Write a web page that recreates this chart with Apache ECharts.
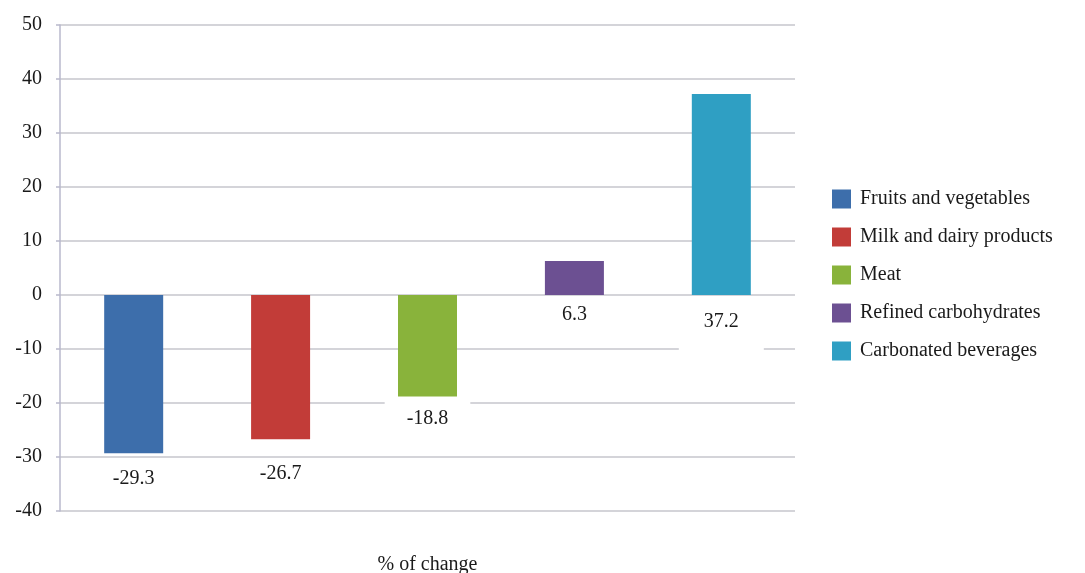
<!DOCTYPE html>
<html>
<head>
<meta charset="utf-8">
<script src="https://cdn.jsdelivr.net/npm/echarts@6/dist/echarts.min.js"></script>
<style>
  html, body { margin: 0; padding: 0; background: #ffffff; }
  #chart { width: 1085px; height: 573px; }
</style>
</head>
<body>
<div id="chart"></div>
<script>
// Percent change in consumption by food group
const categories = ['% of change'];
const groupNames = [
  'Fruits and vegetables',
  'Milk and dairy products',
  'Meat',
  'Refined carbohydrates',
  'Carbonated beverages'
];
const groupValues = [-29.3, -26.7, -18.8, 6.3, 37.2];
const groupColors = ['#3d6eab', '#c23c38', '#89b33b', '#6c5092', '#2f9fc3'];
const yTicks = { min: -40, max: 50, interval: 10 };

// per-bar label spacing (distance from bar end, box padding)
const labelDistance = [8, 22, 2, 2, 2];
const labelPadding = [
  [8, 20, 4, 20],
  [3, 20, 4, 20],
  [10.5, 22, 4, 22],
  [8, 20, 4, 20],
  [15, 25, 22, 25]
];

const FONT = '"Liberation Serif", "Times New Roman", serif';

const chart = echarts.init(document.getElementById('chart'), null, { renderer: 'canvas' });

const series = groupNames.map((name, i) => ({
  name: name,
  type: 'bar',
  data: [groupValues[i]],
  barWidth: 59,
  barGap: '149%',
  itemStyle: { color: groupColors[i] },
  label: {
    show: true,
    position: 'bottom',
    distance: labelDistance[i],
    formatter: (p) => p.value.toFixed(1),
    color: '#1a1a1a',
    fontFamily: FONT,
    fontSize: 20,
    backgroundColor: '#ffffff',
    padding: labelPadding[i]
  }
}));

chart.setOption({
  animation: false,
  backgroundColor: '#ffffff',
  grid: {
    left: 60, right: 290, top: 25, bottom: 62,
    containLabel: false,
    outerBoundsMode: 'none'
  },
  legend: {
    orient: 'vertical',
    left: 832,
    top: 189,
    padding: 0,
    itemWidth: 19,
    itemHeight: 19,
    itemGap: 18,
    icon: 'rect',
    textStyle: { fontFamily: FONT, fontSize: 20, color: '#1a1a1a', padding: [0, 0, 0, 4] },
    data: groupNames
  },
  xAxis: {
    type: 'category',
    data: categories,
    name: '% of change',
    nameLocation: 'middle',
    nameGap: 44,
    nameTextStyle: { fontFamily: FONT, fontSize: 20, color: '#1a1a1a' },
    axisLine: { show: false },
    axisTick: { show: false },
    axisLabel: { show: false },
    splitLine: { show: false }
  },
  yAxis: {
    type: 'value',
    min: yTicks.min,
    max: yTicks.max,
    interval: yTicks.interval,
    axisLine: { show: true, lineStyle: { color: '#b9b9cc', width: 1.5 } },
    axisTick: { show: true, length: 4, lineStyle: { color: '#b9b9cc', width: 1.5 } },
    axisLabel: {
      fontFamily: FONT,
      fontSize: 20,
      color: '#1a1a1a',
      margin: 18
    },
    splitLine: { show: true, lineStyle: { color: '#c6c6cc', width: 1.5 } }
  },
  series: series
});
</script>
</body>
</html>
